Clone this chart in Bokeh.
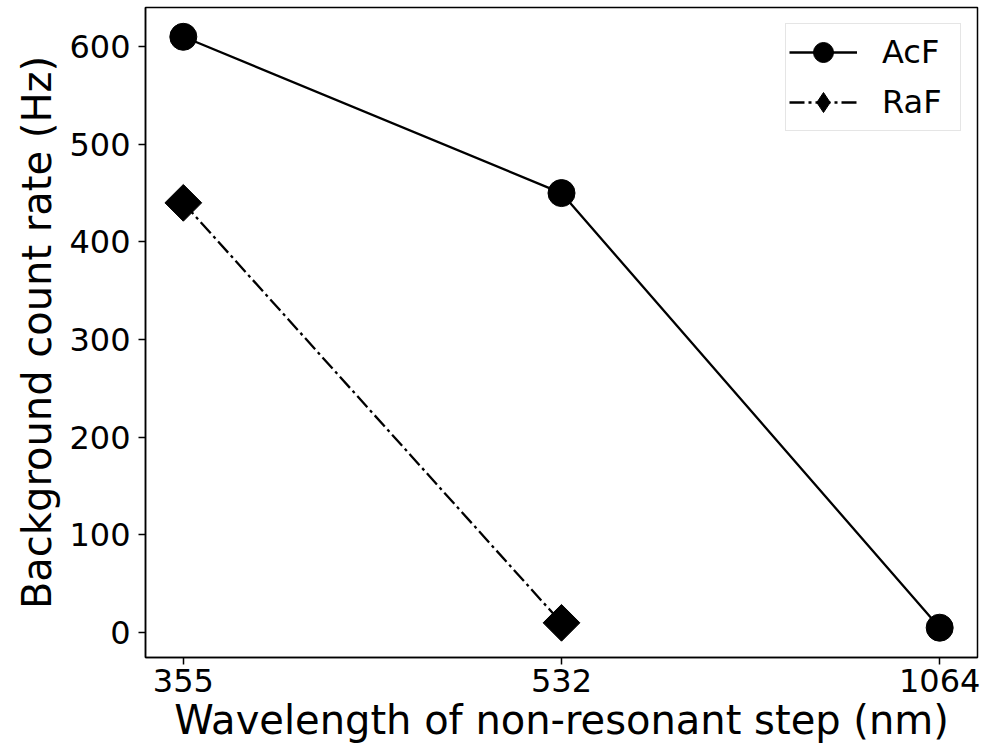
import math
from bokeh.plotting import figure
from bokeh.models import Range1d, FixedTicker, Legend, LegendItem
from bokeh.embed import file_html
from bokeh.resources import INLINE

wavelengths = ["355", "532", "1064"]
acf_rate = [610, 450, 5]
raf_rate = [440, 10]
y_ticks = [0, 100, 200, 300, 400, 500, 600]

acf_x = list(range(len(acf_rate)))
raf_x = list(range(len(raf_rate)))

FONT = "DejaVu Sans"

p = figure(width=994, height=748, output_backend="svg", toolbar_location=None,
           x_range=Range1d(-0.1, 2.1), y_range=Range1d(-25.5, 640))
p.min_border_left = 145
p.min_border_right = 17
p.min_border_top = 7
p.min_border_bottom = 91
p.xgrid.visible = False
p.ygrid.visible = False
p.outline_line_color = "black"
p.outline_line_width = 1.5
p.background_fill_color = "white"
p.border_fill_color = "white"

p.xaxis.ticker = FixedTicker(ticks=list(range(len(wavelengths))))
p.xaxis.major_label_overrides = {i: w for i, w in enumerate(wavelengths)}
p.yaxis.ticker = FixedTicker(ticks=y_ticks)
for ax in (p.xaxis, p.yaxis):
    ax.axis_line_color = "black"
    ax.axis_line_width = 1.5
    ax.major_tick_line_width = 1.5
    ax.major_tick_out = 7
    ax.major_tick_in = 0
    ax.minor_tick_line_color = None
    ax.major_label_text_font = FONT
    ax.major_label_text_font_size = "32px"
    ax.major_label_text_color = "black"
    ax.axis_label_text_font = FONT
    ax.axis_label_text_font_size = "40px"
    ax.axis_label_text_font_style = "normal"
    ax.axis_label_text_color = "black"
p.xaxis.axis_label = "Wavelength of non-resonant step (nm)"
p.yaxis.axis_label = "Background count rate (Hz)"
p.xaxis.major_label_standoff = 4
p.yaxis.major_label_standoff = 8
p.xaxis.axis_label_standoff = 2
p.yaxis.axis_label_standoff = 6

acf_line = p.line(acf_x, acf_rate, line_color="black", line_width=2.3)
acf_pts = p.scatter(acf_x, acf_rate, marker="circle", size=27,
                    fill_color="black", line_color="black")
raf_line = p.line(raf_x, raf_rate, line_color="black", line_width=2.3,
                  line_dash="15 4 3 4")
raf_pts = p.scatter(raf_x, raf_rate, marker="square", size=26, angle=math.pi / 4,
                    fill_color="black", line_color="black")
# legend key (legend glyphs are drawn unrotated, so a diamond marker is used there)
raf_key = p.scatter(raf_x, raf_rate, marker="diamond", size=26,
                    fill_color="black", line_color="black", visible=False)

legend = Legend(items=[
    LegendItem(label="AcF", renderers=[acf_line, acf_pts]),
    LegendItem(label="RaF", renderers=[raf_line, raf_key]),
], location="top_right")
legend.label_text_font = FONT
legend.label_text_font_size = "32px"
legend.label_text_color = "black"
legend.glyph_width = 68
legend.glyph_height = 50
legend.label_height = 50
legend.label_width = 75
legend.spacing = 0
legend.padding = 3
legend.margin = 16
legend.label_standoff = 25
legend.border_line_color = "#cccccc"
legend.border_line_width = 1.5
legend.background_fill_alpha = 1.0
legend.inactive_fill_alpha = 0.0
p.add_layout(legend)

open("out.html", "w").write(file_html(p, INLINE))
